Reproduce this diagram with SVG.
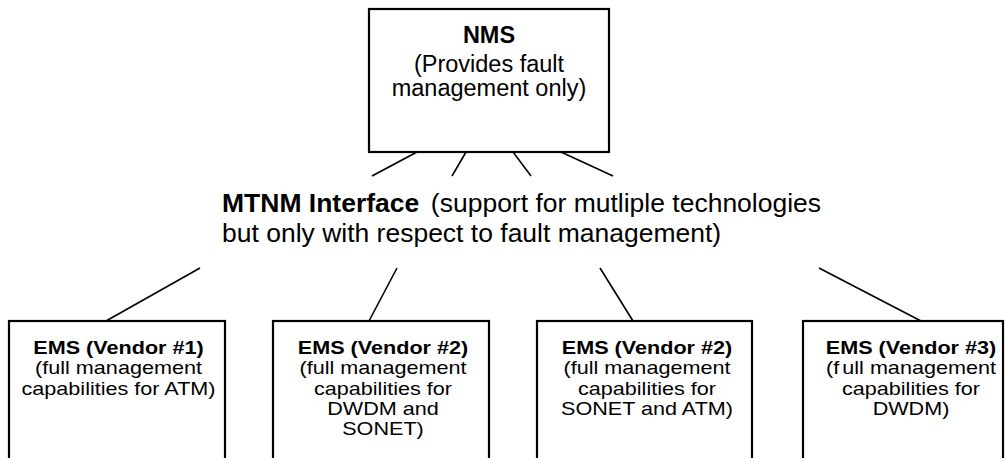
<svg xmlns="http://www.w3.org/2000/svg" width="1005" height="458" viewBox="0 0 1005 458">
<style>
.box{fill:#fff;stroke:#000;stroke-width:2.2}
.c{stroke:#000;stroke-width:1.6;fill:none}
text{font-family:"Liberation Sans",Arial,sans-serif;fill:#000}
.n{font-size:23.5px;text-anchor:middle}
.e{font-size:18px;text-anchor:middle}
.m{font-size:25px}
.b{font-weight:bold}
</style>
<rect width="1005" height="458" fill="#fff"/>
<g id="connectors">
<line class="c" x1="417" y1="152" x2="372" y2="176"/>
<line class="c" x1="466" y1="152" x2="452" y2="176"/>
<line class="c" x1="513" y1="152" x2="531" y2="176"/>
<line class="c" x1="561" y1="152" x2="613" y2="176"/>
<line class="c" x1="200" y1="268" x2="106" y2="321"/>
<line class="c" x1="397" y1="268" x2="369" y2="321"/>
<line class="c" x1="600" y1="268" x2="633" y2="321"/>
<line class="c" x1="819" y1="268" x2="921" y2="321"/>
</g>
<g id="nms">
<rect class="box" x="369" y="9" width="240" height="143"/>
<text class="n b" x="489" y="43">NMS</text>
<text class="n" x="489" y="72">(Provides fault</text>
<text class="n" x="489" y="96">management only)</text>
</g>
<g id="mtnm" transform="translate(222 0) scale(1.06 1)">
<text class="m" x="0" y="212"><tspan class="b">MTNM Interface</tspan><tspan dx="11">(support for mutliple technologies</tspan></text>
<text class="m" x="0" y="242">but only with respect to fault management)</text>
</g>
<g id="ems1">
<rect class="box" x="9" y="321" width="216" height="150"/>
<g transform="translate(118.5 0) scale(1.2 1)">
<text class="e b" x="0" y="354">EMS (Vendor #1)</text>
<text class="e" x="0" y="374.5">(full management</text>
<text class="e" x="0" y="395">capabilities for ATM)</text>
</g>
</g>
<g id="ems2">
<rect class="box" x="273" y="321" width="216" height="150"/>
<g transform="translate(383 0) scale(1.2 1)">
<text class="e b" x="0" y="354">EMS (Vendor #2)</text>
<text class="e" x="0" y="374.5">(full management</text>
<text class="e" x="0" y="395">capabilities for</text>
<text class="e" x="0" y="415">DWDM and</text>
<text class="e" x="0" y="435.5">SONET)</text>
</g>
</g>
<g id="ems3">
<rect class="box" x="537" y="321" width="215" height="150"/>
<g transform="translate(647 0) scale(1.2 1)">
<text class="e b" x="0" y="354">EMS (Vendor #2)</text>
<text class="e" x="0" y="374.5">(full management</text>
<text class="e" x="0" y="395">capabilities for</text>
<text class="e" x="0" y="415">SONET and ATM)</text>
</g>
</g>
<g id="ems4">
<rect class="box" x="803" y="321" width="200" height="150"/>
<g transform="translate(911 0) scale(1.2 1)">
<text class="e b" x="0" y="354">EMS (Vendor #3)</text>
<text class="e" x="0" y="374.5"><tspan>(f</tspan><tspan dx="2.5">ull management</tspan></text>
<text class="e" x="0" y="395">capabilities for</text>
<text class="e" x="0" y="415">DWDM)</text>
</g>
</g>
</svg>
